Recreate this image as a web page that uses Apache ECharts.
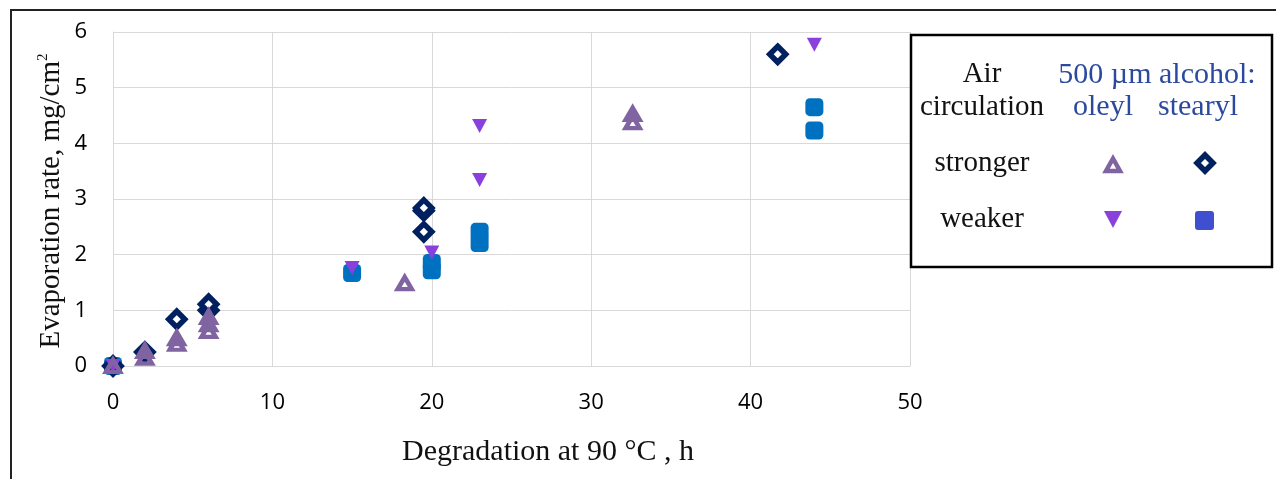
<!DOCTYPE html>
<html>
<head>
<meta charset="utf-8">
<script src="https://cdn.jsdelivr.net/npm/echarts@6/dist/echarts.min.js"></script>
<style>
html,body{margin:0;padding:0;background:#fff;}
#chart{width:1276px;height:479px;}
</style>
</head>
<body>
<div id="chart"></div>
<script>
// Data: [hours, evaporation rate mg/cm2]
const xTicks = [0, 10, 20, 30, 40, 50];
const yTicks = [0, 1, 2, 3, 4, 5, 6];
const oleylStronger = [[0,0],[2,0.15],[2,0.27],[4,0.4],[4,0.5],[6,0.63],[6,0.75],[6,0.88],[18.3,1.49],[32.6,4.38],[32.6,4.53]];
const oleylWeaker = [[0,0],[15,1.76],[20,2.04],[23,3.34],[23,4.31],[44,5.77]];
const stearylStronger = [[0,0],[2,0.25],[4,0.84],[6,1.0],[6,1.11],[19.5,2.41],[19.5,2.79],[19.5,2.84],[41.7,5.6]];
const stearylWeaker = [[0,0],[15,1.67],[20,1.72],[20,1.85],[23,2.21],[23,2.41],[44,4.23],[44,4.65]];

const legendHeader = ['Air', 'circulation'];
const legendCols = ['500 µm alcohol:', 'oleyl', 'stearyl'];
const legendRows = ['stronger', 'weaker'];

const C_TRI_UP = '#8064A2', C_TRI_DN = '#8A40DC', C_DIA = '#002060', C_SQ = '#0070C0';
const SERIF = '"Liberation Serif", "DejaVu Serif", serif';

const chart = echarts.init(document.getElementById('chart'));
const txt = (t, x, y, color, size) => ({
  type: 'text', x: x, y: y, z: 20,
  style: {text: t, fill: color || '#111', font: (size || 29) + 'px ' + SERIF, textAlign: 'center', textVerticalAlign: 'middle'}
});

chart.setOption({
  animation: false,
  grid: {left: 113, right: 366, top: 32, bottom: 113, containLabel: false},
  xAxis: {
    type: 'value', min: xTicks[0], max: xTicks[xTicks.length-1], interval: 10,
    axisLine: {show: true, lineStyle: {color: '#d9d9d9', width: 1}},
    axisTick: {show: false},
    splitLine: {show: true, lineStyle: {color: '#d9d9d9', width: 1}},
    axisLabel: {margin: 26, color: '#000', fontSize: 22, fontFamily: '"Open Sans", sans-serif',
      formatter: v => xTicks.includes(v) ? String(v) : ''}
  },
  yAxis: {
    type: 'value', min: yTicks[0], max: yTicks[yTicks.length-1], interval: 1,
    axisLine: {show: true, lineStyle: {color: '#d9d9d9', width: 1}},
    axisTick: {show: false},
    splitLine: {show: true, lineStyle: {color: '#d9d9d9', width: 1}},
    axisLabel: {margin: 26, color: '#000', fontSize: 22, fontFamily: '"Open Sans", sans-serif',
      formatter: v => yTicks.includes(v) ? String(v) : ''}
  },
  series: [
    {name: 'stearyl weaker', type: 'scatter', data: stearylWeaker, symbol: 'roundRect', symbolSize: 18,
      itemStyle: {color: C_SQ, opacity: 1}, z: 2},
    {name: 'stearyl stronger', type: 'scatter', data: stearylStronger, symbol: 'diamond', symbolSize: 16,
      itemStyle: {color: '#ffffff', borderColor: C_DIA, borderWidth: 5.5, opacity: 1}, z: 3},
    {name: 'oleyl weaker', type: 'scatter', data: oleylWeaker, symbol: 'triangle', symbolSize: [15, 14], symbolRotate: 180,
      itemStyle: {color: C_TRI_DN, opacity: 1}, z: 4},
    {name: 'oleyl stronger', type: 'scatter', data: oleylStronger, symbol: 'triangle', symbolSize: [14, 12],
      itemStyle: {color: 'rgba(0,0,0,0)', borderColor: C_TRI_UP, borderWidth: 4.5, opacity: 1}, z: 5}
  ],
  graphic: [
    // outer frame (top and left edges)
    {type: 'polyline', z: 10, shape: {points: [[11, 479], [11, 10], [1276, 10]]},
      style: {stroke: '#222', lineWidth: 2, fill: null}},
    // axis titles
    txt('Degradation at 90 °C , h', 548, 452, '#111', 30),
    {type: 'text', x: 51, y: 201, rotation: Math.PI / 2, z: 20,
      style: {text: 'Evaporation rate, mg/cm{sup|2}', fill: '#111', font: '29px ' + SERIF,
        textAlign: 'center', textVerticalAlign: 'middle',
        rich: {sup: {fontSize: 15, fontFamily: SERIF, verticalAlign: 'top', padding: [0, 0, 16, 0], fill: '#111'}}}},
    // legend box
    {type: 'rect', z: 15, shape: {x: 911, y: 35, width: 361, height: 232},
      style: {fill: '#fff', stroke: '#000', lineWidth: 2.5}},
    txt(legendHeader[0], 982, 74),
    txt(legendHeader[1], 982, 107),
    txt(legendCols[0], 1157, 75, '#2B4A9E', 30),
    txt(legendCols[1], 1103, 107, '#2B4A9E', 30),
    txt(legendCols[2], 1198, 107, '#2B4A9E', 30),
    txt(legendRows[0], 982, 163),
    txt(legendRows[1], 982, 219),
    {type: 'polygon', z: 20, shape: {points: [[1113, 158.5], [1106, 171], [1120, 171]]},
      style: {fill: '#fff', stroke: C_TRI_UP, lineWidth: 4.5}},
    {type: 'polygon', z: 20, shape: {points: [[1205, 155], [1213, 163], [1205, 171], [1197, 163]]},
      style: {fill: '#fff', stroke: C_DIA, lineWidth: 5.5}},
    {type: 'polygon', z: 20, shape: {points: [[1104, 211], [1122, 211], [1113, 228]]},
      style: {fill: C_TRI_DN}},
    {type: 'rect', z: 20, shape: {x: 1195, y: 211, width: 19, height: 19, r: 3},
      style: {fill: '#3F4FD0'}}
  ]
});
</script>
</body>
</html>
